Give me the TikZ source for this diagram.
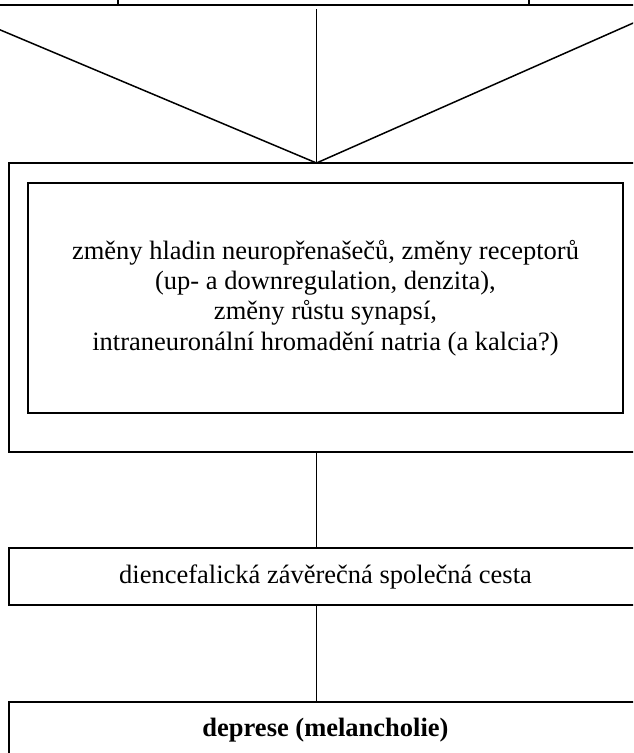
\documentclass[tikz,border=0pt]{standalone}
\usepackage{fontspec}
\setmainfont{Liberation Serif}
\begin{document}
\begin{tikzpicture}[x=1pt,y=-1pt,
  box/.style={draw,line width=1.8pt,rectangle,inner sep=0pt,outer sep=0pt,align=center,
    font=\fontsize{26.5}{30.3}\selectfont},
  conn/.style={line width=1.5pt}]
\useasboundingbox (0,0) rectangle (633,753);
\clip (0,0) rectangle (633,753);
\coordinate (cx) at (316.5,0);
\node[box,minimum width=354,minimum height=100] (topL) at (-59,-45) {};
\node[box,minimum width=411,minimum height=100] (topM) at (323.5,-45) {};
\node[box,minimum width=290,minimum height=100] (topR) at (674,-45) {};
\node[box,minimum width=633,minimum height=289] (outer) at (325.5,307.5) {};
\node[box,minimum width=595,minimum height=230] (inner) at (325.5,298)
  {změny hladin neuropřenašečů, změny receptorů\\
   (up- a downregulation, denzita),\\
   změny růstu synapsí,\\
   intraneuronální hromadění natria (a kalcia?)};
\node[box,minimum width=633,minimum height=57] (dien) at (325.5,576.5)
  {diencefalická závěrečná společná cesta};
\node[box,minimum width=633,minimum height=57] (dep) at (325.5,730.5)
  {\textbf{deprese (melancholie)}};
\coordinate (apex) at (outer.north -| cx);
\draw[conn] (topL.south) -- (apex);
\draw[conn,shorten <=4pt] (topM.south -| cx) -- (apex);
\draw[conn] (topR.south) -- (apex);
\draw[conn] (outer.south -| cx) -- (dien.north -| cx);
\draw[conn] (dien.south -| cx) -- (dep.north -| cx);
\end{tikzpicture}
\end{document}
